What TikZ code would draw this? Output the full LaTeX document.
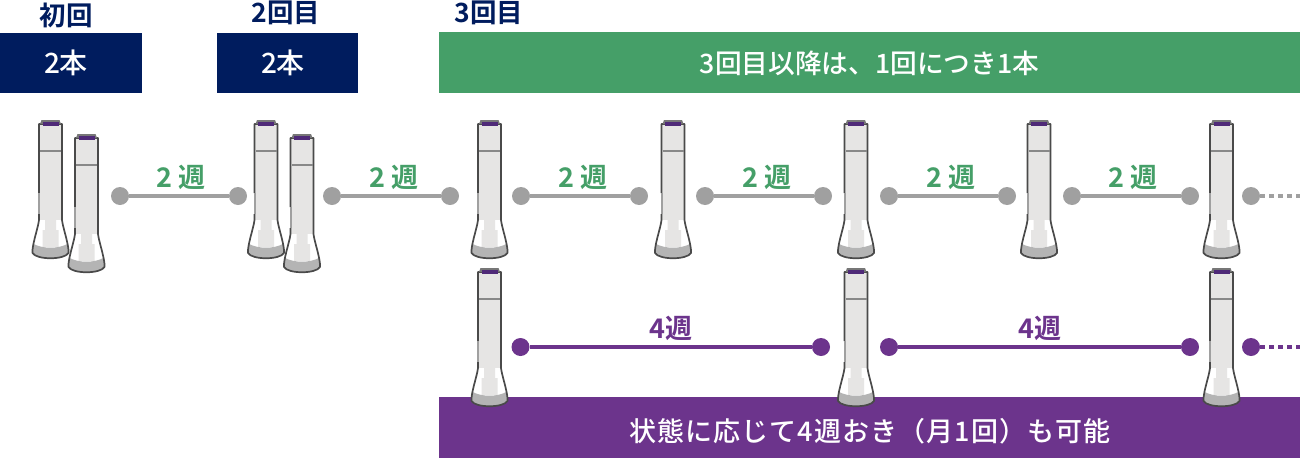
\documentclass[tikz,border=0pt]{standalone}
\usepackage{fontspec}
\setmainfont{Noto Sans CJK JP}[BoldFont={Noto Sans CJK JP Bold}]
\newfontfamily\medf{Noto Sans CJK JP Medium}
\definecolor{navy}{HTML}{001C5E}
\definecolor{grn}{HTML}{459F68}
\definecolor{pur}{HTML}{6C348C}
\definecolor{gry}{HTML}{A0A0A0}
\definecolor{penbody}{HTML}{E6E5E4}
\definecolor{penedge}{HTML}{4A4A4A}
\definecolor{penlow}{HTML}{B4B4B4}
\definecolor{pencap}{HTML}{4F2A78}
\tikzset{
  x=1pt,y=-1pt,
  head/.style={text=navy,font=\bfseries\fontsize{26.5}{27}\selectfont,inner sep=0pt},
  barlbl/.style={text=white,inner sep=0pt},
  dotg/.style={circle,fill=gry,minimum size=18pt,inner sep=0pt},
  dotp/.style={circle,fill=pur,minimum size=18pt,inner sep=0pt},
  ling/.style={gry,line width=4pt},
  linp/.style={pur,line width=4pt},
  lblg/.style={text=grn,font=\bfseries\fontsize{27}{27}\selectfont,inner sep=0pt},
  lblp/.style={text=pur,font=\bfseries\fontsize{27}{27}\selectfont,inner sep=0pt},
  pen/.pic={
    % body + flare fill
    \fill[penbody] (-11.5,4) -- (11.5,4) -- (11.5,103) -- (-11.5,103) -- cycle;
    \fill[white] (-11.5,100)
      .. controls (-12.5,108) and (-17,120) .. (-18,133)
      .. controls (-14,138) and (14,138) .. (18,133)
      .. controls (17,120) and (12.5,108) .. (11.5,100) -- cycle;
    \fill[penbody] (-5.5,100) -- (5.5,100) -- (5.5,110) -- (8,110) -- (8,127) -- (-8,127) -- (-8,110) -- (-5.5,110) -- cycle;
    % grey foot
    \fill[penlow] (-17,124) .. controls (-7,129) and (7,129) .. (17,124)
      -- (18,133) .. controls (14,139.5) and (-14,139.5) .. (-18,133) -- cycle;
    % outline
    \draw[penedge,line width=1.7pt,line join=round]
      (-11.5,73) -- (-11.5,4) -- (11.5,4) -- (11.5,100)
      .. controls (12.5,108) and (17,120) .. (18,130) -- (18,133)
      .. controls (14,140) and (-14,140) .. (-18,133) -- (-18,130)
      .. controls (-17,120) and (-12.5,108) .. (-11.5,100) -- (-11.5,94);
    \draw[gry,line width=2pt] (-11.5,73) -- (-11.5,94);
    % ring
    \draw[gry!85!black,line width=2pt] (-10.5,31) -- (10.5,31);
    % cap
    \fill[penedge!75!white] (-10.5,4) -- (-9,0) -- (9,0) -- (10.5,4) -- cycle;
    \fill[pencap] (-8,1.7) rectangle (8,6);
  }
}
\begin{document}
\begin{tikzpicture}
\useasboundingbox (0,0) rectangle (1300,458);
% header bars
\fill[navy] (0,33) rectangle (142,93);
\fill[navy] (217,33) rectangle (358,93);
\fill[grn] (439,32) rectangle (1300,93);
\fill[pur] (439,397) rectangle (1300,458);
\node[head] (h1) at (66,15) {初回};
\node[head] (h2) at (286,13) {2回目};
\node[head] (h3) at (489,13) {3回目};
\node[barlbl,font=\medf\fontsize{28}{28}\selectfont] (b1) at (66,63) {2本};
\node[barlbl,font=\medf\fontsize{28}{28}\selectfont] (b2) at (283,63) {2本};
\node[barlbl,font=\medf\fontsize{26.7}{27}\selectfont] (b3) at (869.5,63) {3回目以降は、1回につき1本};
\node[barlbl,font=\medf\fontsize{27}{27}\selectfont\addfontfeature{LetterSpace=4}] (b4) at (870,431) {状態に応じて4週おき（月1回）も可能};
% pens
\foreach \cx/\ty in {50.5/120,86.5/134,266/120,302/134,489.5/120,673/120,856/120,1039/120,1221.5/120,489.5/268,856/268,1221.5/268}
  \pic at (\cx,\ty) {pen};
% grey timeline
\node[dotg] (a1) at (120,196) {}; \node[dotg] (a2) at (238,196) {};
\node[dotg] (a3) at (332,196) {}; \node[dotg] (a4) at (450,196) {};
\node[dotg] (a5) at (521,196) {}; \node[dotg] (a6) at (639,196) {};
\node[dotg] (a7) at (705,196) {}; \node[dotg] (a8) at (823,196) {};
\node[dotg] (a9) at (889,196) {}; \node[dotg] (a10) at (1007,196) {};
\node[dotg] (a11) at (1072,196) {}; \node[dotg] (a12) at (1190,196) {};
\node[dotg] (a13) at (1251,196) {};
\coordinate (aend) at (1300,196);
\draw[ling] (a1)--(a2); \draw[ling] (a3)--(a4); \draw[ling] (a5)--(a6);
\draw[ling] (a7)--(a8); \draw[ling] (a9)--(a10); \draw[ling] (a11)--(a12);
\draw[ling,dash pattern=on 5pt off 4pt] (a13.east)--(aend);
% purple timeline
\node[dotp] (p1) at (520.5,347) {}; \node[dotp] (p2) at (821,347) {};
\node[dotp] (p3) at (889,347) {}; \node[dotp] (p4) at (1190,347) {};
\node[dotp] (p5) at (1251,347) {};
\coordinate (pend) at (1300,347);
\draw[linp] (p1)--(p2); \draw[linp] (p3)--(p4);
\draw[linp,dash pattern=on 5pt off 4pt] (p5.east)--(pend);
% labels
\node[lblg] (l1) at (181,177) {2 週};
\node[lblg] (l2) at (394,177) {2 週};
\node[lblg] (l3) at (583,177) {2 週};
\node[lblg] (l4) at (767,177) {2 週};
\node[lblg] (l5) at (951,177) {2 週};
\node[lblg] (l6) at (1133,177) {2 週};
\node[lblp] (l7) at (671,328) {4週};
\node[lblp] (l8) at (1040,328) {4週};
\end{tikzpicture}
\end{document}
